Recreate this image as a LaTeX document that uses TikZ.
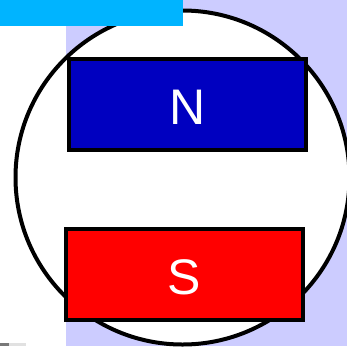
\documentclass[tikz,border=0pt]{standalone}
\usepackage{fontspec}
\setmainfont{Liberation Sans}
\definecolor{lav}{RGB}{204,204,255}
\definecolor{skyc}{RGB}{0,180,255}
\definecolor{magblue}{RGB}{0,0,192}
\definecolor{darkg}{RGB}{120,120,120}
\definecolor{lightg}{RGB}{225,225,225}
\tikzset{
  magnet/.style={draw=black, line width=4pt, minimum width=237pt, minimum height=90.5pt,
    inner sep=0pt, text=white, font=\fontsize{50}{50}\selectfont, text height=40pt, text depth=0pt},
}
\begin{document}
\begin{tikzpicture}[x=1pt,y=-1pt]
\useasboundingbox (0,0) rectangle (347,346);
\clip (0,0) rectangle (347,346);
\fill[lav] (66,0) rectangle (347,346);
\node[circle, draw=black, fill=white, line width=4pt, minimum size=334pt, inner sep=0pt] (ring) at (182.5,177.5) {};
\node[magnet, fill=magblue] (north) at (187.5,104.25) {N};
\node[magnet, fill=red, minimum width=237pt, minimum height=91pt] (south) at (184,274.5) {S};
\fill[skyc] (0,0) rectangle (183,26);
\fill[darkg] (0,343) rectangle (9,346);
\fill[lightg] (9,343) rectangle (26,346);
\end{tikzpicture}
\end{document}
